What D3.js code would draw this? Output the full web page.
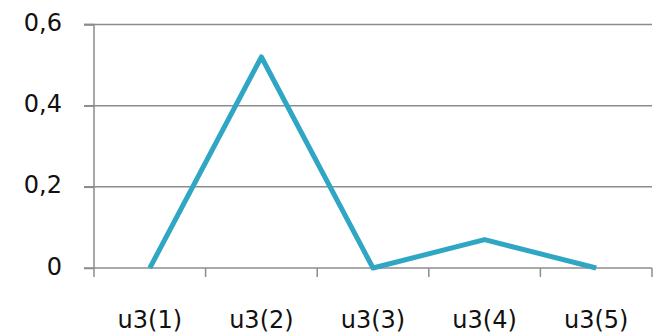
<!DOCTYPE html>
<html><head><meta charset="utf-8">
<script src="https://cdn.jsdelivr.net/npm/d3@7"></script>
<style>body{margin:0;background:#fff}svg{display:block}</style>
</head><body>
<svg id="c" width="656" height="334"></svg>
<script>
const categories = ["u3(1)","u3(2)","u3(3)","u3(4)","u3(5)"];
const values = [0, 0.52, 0, 0.07, 0];
const yTicks = [0, 0.2, 0.4, 0.6];
const yTickLabels = ["0","0,2","0,4","0,6"];

(function(){
const svg = d3.select("#c");
const mLeft = 94, mRight = 652, mTop = 24.5, mBottom = 268;
const x = d3.scaleBand().domain(categories).range([mLeft, mRight]);
const y = d3.scaleLinear().domain([0, 0.6]).range([mBottom, mTop]);
const font = "DejaVu Sans";
const grey = "#8c8c8c";

svg.append("g").selectAll("line").data(yTicks.filter(d=>d>0)).join("line")
  .attr("x1", mLeft - 10).attr("x2", mRight)
  .attr("y1", d=>y(d)).attr("y2", d=>y(d))
  .attr("stroke", grey).attr("stroke-width", 1.5);

const yAxis = d3.axisLeft(y).tickValues(yTicks).tickSize(10).tickPadding(22)
  .tickFormat((d,i)=>yTickLabels[i]);
const gy = svg.append("g").attr("transform",`translate(${mLeft},0)`).call(yAxis);
gy.select(".domain").attr("stroke", grey).attr("stroke-width",1.5).attr("d",`M-10,${mTop}H0V${mBottom}`);
gy.selectAll(".tick line").attr("stroke", grey).attr("stroke-width",1.5);
gy.selectAll("text").attr("font-family", font).attr("font-size", 24).attr("fill","#111").attr("dy","0.25em");

const gx = svg.append("g").attr("transform",`translate(0,${mBottom})`);
gx.append("line").attr("x1", mLeft-10).attr("x2", mRight).attr("stroke", grey).attr("stroke-width",1.5);
const bounds = categories.map(c=>x(c)).concat([x(categories[categories.length-1]) + x.bandwidth()]);
gx.selectAll("line.t").data(bounds).join("line").attr("class","t")
  .attr("x1", d=>d).attr("x2", d=>d).attr("y1",0).attr("y2",9)
  .attr("stroke", grey).attr("stroke-width",1.5);
gx.selectAll("text").data(categories).join("text")
  .attr("x", d=>x(d)+x.bandwidth()/2).attr("y", 60)
  .attr("text-anchor","middle").attr("font-family", font).attr("font-size",24).attr("fill","#111")
  .text(d=>d);

const line = d3.line().x((d,i)=>x(categories[i])+x.bandwidth()/2).y(d=>y(d));
svg.append("path").datum(values).attr("d", line).attr("fill","none")
  .attr("stroke","#2fa6c4").attr("stroke-width",5).attr("stroke-linejoin","round");
})();
</script>
</body></html>
